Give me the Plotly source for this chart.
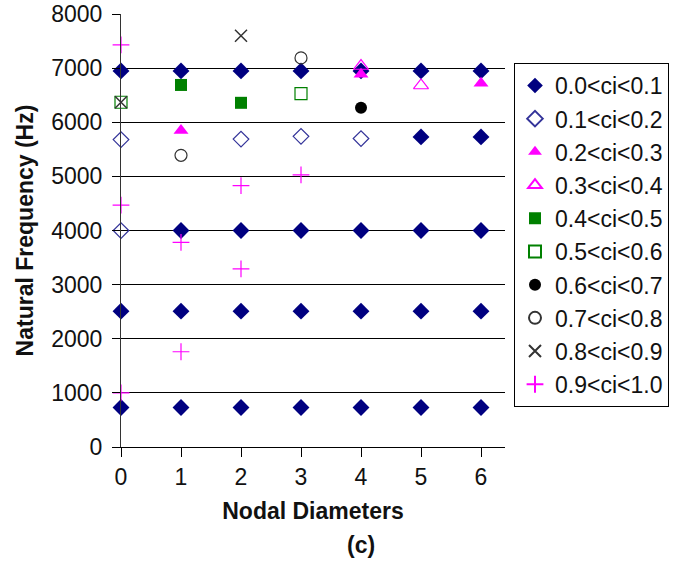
import plotly.graph_objects as go

# Nodal diameter / natural frequency points, grouped by ci band
labels = ["0.0<ci<0.1", "0.1<ci<0.2", "0.2<ci<0.3", "0.3<ci<0.4", "0.4<ci<0.5",
          "0.5<ci<0.6", "0.6<ci<0.7", "0.7<ci<0.8", "0.8<ci<0.9", "0.9<ci<1.0"]

nd_00 = [0, 1, 2, 3, 4, 5, 6,   1, 2, 3, 4, 5, 6,   0, 1, 2, 3, 4, 5, 6,   0, 1, 2, 3, 4, 5, 6,   5, 6]
hz_00 = [6950] * 7 + [4000] * 6 + [2510] * 7 + [730] * 7 + [5730, 5730]

nd_01 = [0, 0, 2, 3, 4]
hz_01 = [5680, 4000, 5690, 5740, 5700]

nd_02 = [1, 4, 6]
hz_02 = [5850, 6890, 6720]

nd_03 = [4, 5]
hz_03 = [7040, 6680]

nd_04 = [1, 2]
hz_04 = [6690, 6360]

nd_05 = [0, 3]
hz_05 = [6370, 6530]

nd_06 = [4]
hz_06 = [6270]

nd_07 = [1, 3]
hz_07 = [5390, 7190]

nd_08 = [0, 2]
hz_08 = [6370, 7600]

nd_09 = [0, 0, 0, 1, 1, 2, 2, 3]
hz_09 = [7430, 4470, 1000, 3780, 1760, 4830, 3290, 5030]

x_ticks = [0, 1, 2, 3, 4, 5, 6]
y_ticks = [0, 1000, 2000, 3000, 4000, 5000, 6000, 7000, 8000]

xs = [nd_00, nd_01, nd_02, nd_03, nd_04, nd_05, nd_06, nd_07, nd_08, nd_09]
ys = [hz_00, hz_01, hz_02, hz_03, hz_04, hz_05, hz_06, hz_07, hz_08, hz_09]

styles = [
    dict(symbol="diamond", color="#000080", size=13, line=dict(width=0)),
    dict(symbol="diamond-open", color="#333399", size=12, line=dict(width=1.2)),
    dict(symbol="triangle-up", color="#FF00FF", size=13, line=dict(width=0)),
    dict(symbol="triangle-up-open", color="#FF00FF", size=13, line=dict(width=1.2)),
    dict(symbol="square", color="#008000", size=12, line=dict(width=0)),
    dict(symbol="square-open", color="#008000", size=12, line=dict(width=1.2)),
    dict(symbol="circle", color="#000000", size=12, line=dict(width=0)),
    dict(symbol="circle-open", color="#333333", size=12, line=dict(width=1.2)),
    dict(symbol="x-thin-open", color="#333333", size=12, line=dict(width=1.5)),
    dict(symbol="cross-thin-open", color="#FF00FF", size=12, line=dict(width=1.2)),
]

FONT = "Arial, Liberation Sans, sans-serif"

# plot area in pixels: x 121..505, y 14..447
L, R, T, B = 121, 505, 14, 447
W, H = 683, 561

fig = go.Figure()
for name, x, y, st in zip(labels, xs, ys, styles):
    line = dict(st["line"])
    line["color"] = st["color"]
    fig.add_trace(go.Scatter(
        x=x, y=y, mode="markers", name=name, cliponaxis=False,
        legendgroup=name,
        marker=dict(symbol=st["symbol"], color=st["color"], size=st["size"], line=line),
    ))

fig.update_layout(
    width=W, height=H,
    margin=dict(l=L, r=W - R, t=T, b=H - B, autoexpand=False),
    paper_bgcolor="white", plot_bgcolor="white",
    font=dict(family=FONT, size=23, color="#111111"),
    showlegend=True,
    legend=dict(
        x=(514 - L) / (R - L), xanchor="left", y=(B - 63) / (B - T), yanchor="top",
        bordercolor="#000000", borderwidth=1, bgcolor="white",
        font=dict(family=FONT, size=23, color="#111111"),
        tracegroupgap=0.3, itemsizing="constant",
    ),
    xaxis=dict(
        range=[0, 6.4], tickvals=x_ticks, showgrid=False, zeroline=False,
        showline=True, linecolor="#000000", linewidth=1, automargin=False,
        ticks="outside", ticklen=9, tickcolor="#000000",
        title=dict(text="<b>Nodal Diameters</b>", font=dict(size=23), standoff=14),
    ),
    yaxis=dict(
        range=[0, 8001], tickvals=y_ticks, showgrid=True, gridcolor="#000000",
        gridwidth=1, zeroline=False, showline=True, linecolor="#333333",
        linewidth=1, ticks="outside", ticklen=8, tickcolor="#000000",
        ticklabelstandoff=5, automargin=False,
        title=dict(text="<b>Natural Frequency (Hz)</b>", font=dict(size=23), standoff=11),
    ),
    annotations=[dict(
        text="<b>(c)</b>", x=(361 - L) / (R - L), y=(B - 545) / (B - T),
        xref="paper", yref="paper", xanchor="center", yanchor="middle",
        showarrow=False, font=dict(size=23),
    )],
)

fig.write_html("out.html")
